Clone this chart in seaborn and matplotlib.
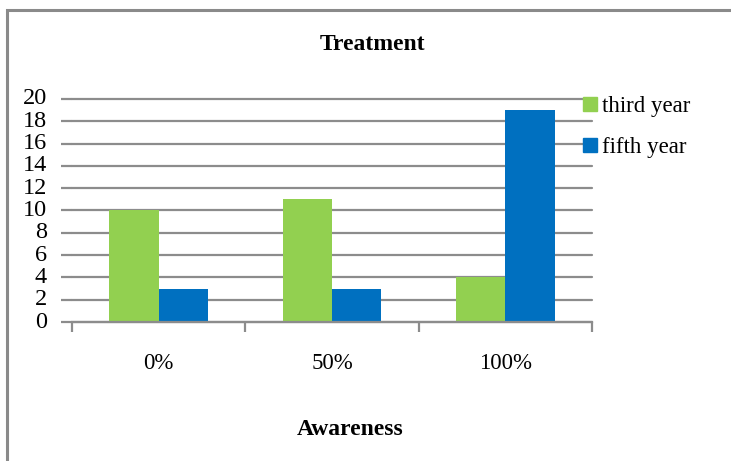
import matplotlib
matplotlib.use("Agg")
import matplotlib.pyplot as plt
from matplotlib.patches import Rectangle
from matplotlib.lines import Line2D
from matplotlib.ticker import FixedLocator
import seaborn as sns
import pandas as pd

categories = ["0%", "50%", "100%"]
third_year = [10, 11, 4]
fifth_year = [3, 3, 19]
series_names = ["third year", "fifth year"]
colors = ["#92D050", "#0070C0"]

df = pd.DataFrame({
    "Awareness": categories * 2,
    "value": third_year + fifth_year,
    "series": [series_names[0]] * 3 + [series_names[1]] * 3,
})

sns.set_theme(style="white")
plt.rcParams["font.family"] = ["Liberation Serif", "DejaVu Serif"]
plt.rcParams["text.color"] = "black"

W, H = 731, 461
fig = plt.figure(figsize=(W / 100, H / 100), dpi=100)
ax = fig.add_axes([72 / W, 1 - 322 / H, (592 - 72) / W, (322 - 99) / H])

sns.barplot(data=df, x="Awareness", y="value", hue="series", order=categories,
            hue_order=series_names, palette=colors, width=0.57, saturation=1,
            ax=ax, legend=False, linewidth=0)

grid_c = "#8c8c8c"
ax.set_ylim(0, 20)
ax.set_xlim(-0.5, 2.5)
ax.set_yticks(range(0, 21, 2))
ax.yaxis.grid(True, color=grid_c, linewidth=1.6)
for gl in ax.get_ygridlines():
    gl.set_clip_on(False)
ax.set_axisbelow(True)
for s in ["top", "right", "left"]:
    ax.spines[s].set_visible(False)
ax.spines["bottom"].set_color(grid_c)
ax.spines["bottom"].set_linewidth(1.6)

ax.tick_params(axis="y", which="major", left=True, length=8, width=1.6,
               color=grid_c, labelsize=17.5, pad=10, labelcolor="black")
ax.tick_params(axis="x", which="major", bottom=False, labelsize=16.5,
               pad=16, labelcolor="black")
ax.xaxis.set_minor_locator(FixedLocator([-0.5, 0.5, 1.5, 2.5]))
ax.tick_params(axis="x", which="minor", bottom=True, length=7, width=1.6,
               color=grid_c)
for lbl in ax.get_yticklabels():
    lbl.set_verticalalignment("center")

ax.set_xlabel("")
ax.set_ylabel("")

fig.text(373 / W, 1 - 44 / H, "Treatment", ha="center", va="center",
         fontsize=17, fontweight="bold", color="black")
fig.text(350 / W, 1 - 429 / H, "Awareness", ha="center", va="center",
         fontsize=17, fontweight="bold", color="black")

handles = [Line2D([0], [0], marker="s", linestyle="", markersize=9.5,
                  markerfacecolor=c, markeredgecolor=c) for c in colors]
leg = fig.legend(handles, series_names, loc="upper left",
                 bbox_to_anchor=(580 / W, 1 - 96 / H), frameon=False,
                 fontsize=16.5, handletextpad=0.05, labelspacing=0.85,
                 handlelength=0.9, borderaxespad=0, borderpad=0)
for t in leg.get_texts():
    t.set_color("black")

fig.add_artist(Rectangle((7 / W, -0.05), 1.0, 1 - 10 / H + 0.05,
                         transform=fig.transFigure, fill=False,
                         edgecolor="#8a8a8a", linewidth=2.2))

fig.savefig("out.png", dpi=100)
